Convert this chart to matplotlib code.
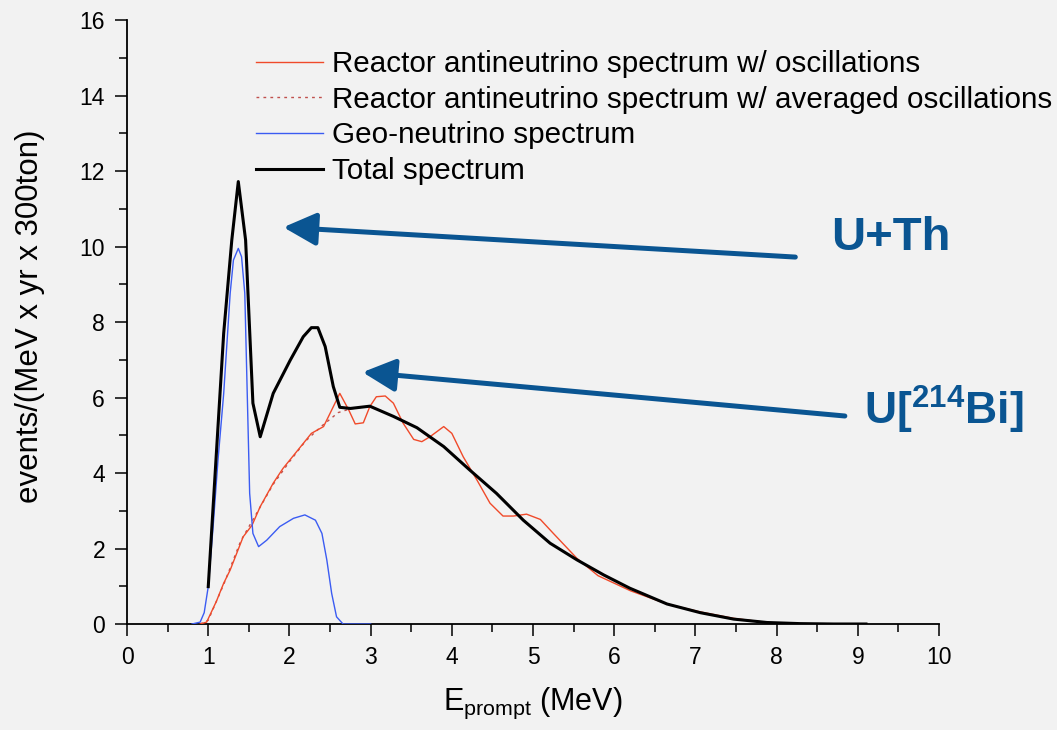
import matplotlib
matplotlib.use("Agg")
import matplotlib.pyplot as plt
from matplotlib.ticker import MultipleLocator

# ----------------------------
# Data
# ----------------------------
geo_E = [0.80, 0.90, 0.95, 1.00, 1.06, 1.12, 1.19, 1.27, 1.31, 1.37, 1.41, 1.45,
         1.47, 1.49, 1.51, 1.55, 1.62, 1.72, 1.88, 2.05, 2.19, 2.32, 2.40, 2.46,
         2.52, 2.58, 2.66, 3.00]
geo_v = [0.0, 0.05, 0.3, 0.99, 2.58, 4.34, 6.1, 8.76, 9.64, 9.95, 9.73, 8.76,
         7.0, 5.23, 3.46, 2.40, 2.05, 2.22, 2.58, 2.80, 2.89, 2.75, 2.40, 1.70,
         0.81, 0.19, 0.0, 0.0]

osc_E = [0.90, 0.98, 1.10, 1.19, 1.27, 1.43, 1.54, 1.64, 1.80, 1.92, 2.09, 2.27,
         2.42, 2.50, 2.62, 2.73, 2.81, 2.91, 2.99, 3.07, 3.18, 3.28, 3.40, 3.53,
         3.63, 3.73, 3.90, 4.00, 4.14, 4.31, 4.47, 4.63, 4.76, 4.92, 5.09, 5.25,
         5.54, 5.80, 6.20, 6.65, 7.06, 7.47, 7.88, 8.10, 8.50]
osc_v = [0.0, 0.05, 0.6, 1.08, 1.43, 2.31, 2.62, 3.11, 3.73, 4.12, 4.57, 5.05,
         5.23, 5.58, 6.11, 5.67, 5.30, 5.33, 5.76, 6.02, 6.04, 5.85, 5.32, 4.89,
         4.83, 4.96, 5.23, 5.05, 4.43, 3.81, 3.20, 2.86, 2.86, 2.91, 2.77, 2.40,
         1.74, 1.28, 0.88, 0.53, 0.32, 0.15, 0.04, 0.01, 0.0]

avg_E = [0.90, 1.00, 1.20, 1.40, 1.60, 1.80, 2.00, 2.20, 2.40, 2.60, 2.75, 2.99,
         3.28, 3.57, 3.90, 4.22, 4.55, 4.88, 5.21, 5.54, 5.87, 6.19, 6.65, 7.06,
         7.47, 7.88, 8.29, 8.70, 9.10]
avg_v = [0.0, 0.1, 1.1, 2.2, 2.95, 3.7, 4.3, 4.85, 5.25, 5.6, 5.7, 5.77,
         5.50, 5.20, 4.70, 4.08, 3.46, 2.75, 2.14, 1.70, 1.30, 0.95, 0.53, 0.30,
         0.13, 0.04, 0.01, 0.0, 0.0]

tot_E = [1.00, 1.19, 1.29, 1.37, 1.46, 1.55, 1.64, 1.80, 2.01, 2.17, 2.27, 2.35,
         2.44, 2.54, 2.62, 2.75, 2.99, 3.28, 3.57, 3.90, 4.22, 4.55, 4.88, 5.21,
         5.54, 5.87, 6.19, 6.65, 7.06, 7.47, 7.88, 8.29, 8.70, 9.10]
tot_v = [0.99, 7.70, 10.17, 11.72, 10.17, 5.85, 4.96, 6.11, 6.99, 7.61, 7.85, 7.85,
         7.35, 6.29, 5.74, 5.71, 5.77, 5.50, 5.20, 4.70, 4.08, 3.46, 2.75, 2.14,
         1.70, 1.30, 0.95, 0.53, 0.30, 0.13, 0.04, 0.01, 0.0, 0.0]

labels = ["Reactor antineutrino spectrum w/ oscillations",
          "Reactor antineutrino spectrum w/ averaged oscillations",
          "Geo-neutrino spectrum",
          "Total spectrum"]

# ----------------------------
# Style
# ----------------------------
plt.rcParams["font.family"] = ["Liberation Sans", "DejaVu Sans"]
plt.rcParams["mathtext.fontset"] = "custom"
plt.rcParams["mathtext.rm"] = "Liberation Sans"
plt.rcParams["mathtext.bf"] = "Liberation Sans:bold"

BG = "#f2f2f2"
RED = "#f04a2a"
BLUE = "#3b5cf2"
ARROW = "#0a5592"

fig = plt.figure(figsize=(10.57, 7.30), dpi=100, facecolor=BG)
ax = fig.add_axes([0.1202, 0.1452, 0.7682, 0.8274], facecolor=BG)

ax.plot(osc_E, osc_v, color=RED, lw=1.0, label=labels[0], zorder=3)
ax.plot(avg_E, avg_v, color="#c0504d", lw=1.0, ls=(0, (2, 3)), label=labels[1], zorder=2)
ax.plot(geo_E, geo_v, color=BLUE, lw=1.0, label=labels[2], zorder=3)
ax.plot(tot_E, tot_v, color="black", lw=2.2, label=labels[3], zorder=4)

ax.set_xlim(0, 10)
ax.set_ylim(0, 16)
ax.xaxis.set_major_locator(MultipleLocator(1))
ax.xaxis.set_minor_locator(MultipleLocator(0.5))
ax.yaxis.set_major_locator(MultipleLocator(2))
ax.yaxis.set_minor_locator(MultipleLocator(1))
ax.tick_params(which="major", length=8.8, width=1.1, labelsize=16.5, pad=7)
ax.tick_params(which="minor", length=5.8, width=1.1)
for side in ["top", "right"]:
    ax.spines[side].set_visible(False)
for side in ["left", "bottom"]:
    ax.spines[side].set_linewidth(1.3)

ax.set_xlabel(r"E$_{\mathrm{prompt}}$ (MeV)", fontsize=22, labelpad=12)
ax.set_ylabel("events/(MeV x yr x 300ton)", fontsize=22.5, labelpad=16)
ax.yaxis.set_label_coords(-0.101, 0.51)

leg = ax.legend(loc="upper left", bbox_to_anchor=(0.1445, 0.97), frameon=False,
                fontsize=21.3, handlelength=2.25, handletextpad=0.3,
                labelspacing=0.26, borderaxespad=0)

# ----------------------------
# Annotations
# ----------------------------
arrow_kw = dict(arrowstyle="-|>,head_length=2.0,head_width=1.0", color=ARROW,
                lw=3.6, mutation_scale=10, shrinkA=0, shrinkB=0)
ax.annotate("", xy=(1.925, 10.51), xytext=(8.23, 9.72), arrowprops=arrow_kw)
ax.annotate("", xy=(2.90, 6.67), xytext=(8.84, 5.51), arrowprops=arrow_kw)

fig.text(831 / 1057, 1 - 250 / 730, "U+Th", color=ARROW, fontsize=34,
         fontweight="bold", ha="left", va="baseline")
fig.text(864 / 1057, 1 - 425 / 730, r"U[$^{\mathbf{214}}$Bi]", color=ARROW,
         fontsize=32, fontweight="bold", ha="left", va="baseline")

fig.savefig("out.png", dpi=100, facecolor=BG)
plt.close(fig)
